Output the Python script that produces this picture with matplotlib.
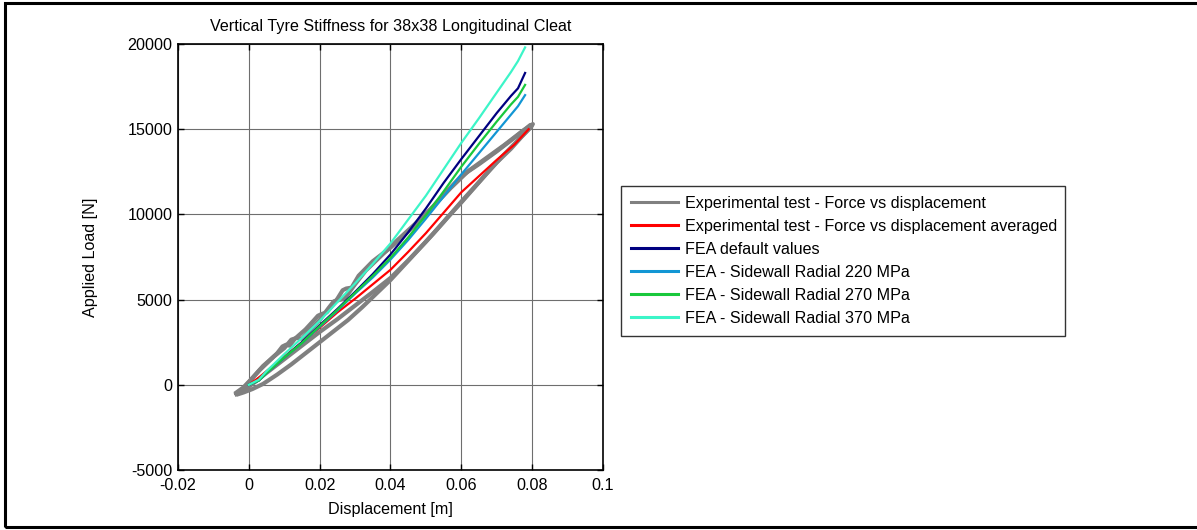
import matplotlib
matplotlib.use("Agg")
import matplotlib.pyplot as plt
from matplotlib.patches import Rectangle

plt.rcParams['font.family'] = ['Liberation Sans', 'DejaVu Sans']

# --- Data -----------------------------------------------------------------
title = "Vertical Tyre Stiffness for 38x38 Longitudinal Cleat"
xlabel = "Displacement [m]"
ylabel = "Applied Load [N]"
xticks = [-0.02, 0, 0.02, 0.04, 0.06, 0.08, 0.1]
xtick_labels = ["-0.02", "0", "0.02", "0.04", "0.06", "0.08", "0.1"]
yticks = [-5000, 0, 5000, 10000, 15000, 20000]
ytick_labels = ["-5000", "0", "5000", "10000", "15000", "20000"]

# Experimental test, raw force vs displacement (two load/unload cycles)
exp_x_c1 = [-0.0035, -0.002, 0.000, 0.003, 0.006, 0.008, 0.0095, 0.0105, 0.0115, 0.013,
            0.016, 0.018, 0.0195, 0.0205, 0.022, 0.025, 0.0265, 0.0275, 0.029, 0.031,
            0.035, 0.040, 0.045, 0.050, 0.055, 0.060, 0.065, 0.070, 0.075, 0.0795,
            0.0798, 0.077, 0.074, 0.070, 0.065, 0.060, 0.055, 0.050, 0.045, 0.040,
            0.035, 0.030, 0.025, 0.020, 0.015, 0.010, 0.005, 0.002, 0.000, -0.002, -0.0035]
exp_y_c1 = [-500, -300, 150, 850, 1450, 1850, 2250, 2350, 2300, 2700,
            3250, 3700, 4050, 4150, 4250, 5050, 5550, 5650, 5700, 6400,
            7250, 8050, 9000, 10000, 11150, 12250, 12950, 13700, 14500, 15250,
            15150, 14550, 13850, 13050, 11900, 10750, 9550, 8400, 7300, 6270,
            5450, 4650, 3850, 3100, 2300, 1500, 700, 200, -100, -400, -550]

exp_x_c2 = [-0.0035, -0.0015, 0.001, 0.004, 0.007, 0.010, 0.012, 0.0135, 0.015, 0.017,
            0.020, 0.0225, 0.024, 0.025, 0.027, 0.030, 0.033, 0.037, 0.042, 0.047,
            0.052, 0.057, 0.062, 0.067, 0.072, 0.077, 0.0802,
            0.079, 0.076, 0.072, 0.068, 0.064, 0.060, 0.056, 0.052, 0.048, 0.044,
            0.040, 0.036, 0.032, 0.028, 0.024, 0.020, 0.016, 0.012, 0.008, 0.004,
            0.001, -0.0015, -0.003]
exp_y_c2 = [-450, -150, 400, 1100, 1650, 2150, 2650, 2750, 2700, 3150,
            3800, 4500, 4900, 4950, 5050, 5900, 6700, 7500, 8500, 9450,
            10450, 11550, 12550, 13300, 14050, 14850, 15300,
            15000, 14350, 13500, 12600, 11650, 10700, 9800, 8850, 7950, 7050,
            6150, 5350, 4550, 3800, 3150, 2500, 1850, 1200, 600, 50,
            -250, -450, -550]

# Experimental test, averaged curve
avg_x = [0.000, 0.003, 0.005, 0.010, 0.015, 0.020, 0.025, 0.030, 0.035, 0.040,
         0.045, 0.050, 0.055, 0.060, 0.065, 0.070, 0.075, 0.079]
avg_y = [0, 450, 800, 1650, 2500, 3350, 4250, 5050, 5900, 6750,
         7800, 8900, 10100, 11300, 12250, 13200, 14100, 15000]

# FEA curves
fea_x = [0.000, 0.0028, 0.005, 0.010, 0.015, 0.020, 0.025, 0.030, 0.035, 0.040,
         0.045, 0.050, 0.055, 0.060, 0.065, 0.070, 0.074, 0.076, 0.078]
fea_default_y = [0, 250, 700, 1600, 2500, 3500, 4450, 5450, 6500, 7650,
                 8950, 10350, 11850, 13250, 14600, 15950, 16950, 17400, 18300]
fea_220_y = [0, 250, 700, 1600, 2450, 3400, 4350, 5350, 6300, 7350,
             8500, 9750, 11050, 12350, 13600, 14850, 15850, 16350, 17000]
fea_270_y = [0, 250, 700, 1600, 2450, 3450, 4400, 5400, 6400, 7450,
             8650, 9950, 11350, 12800, 14150, 15450, 16450, 16900, 17600]
fea_370_y = [0, 300, 800, 1800, 2750, 3750, 4850, 5950, 7100, 8300,
             9700, 11100, 12650, 14200, 15650, 17150, 18350, 19000, 19800]

labels = ["Experimental test - Force vs displacement",
          "Experimental test - Force vs displacement averaged",
          "FEA default values",
          "FEA - Sidewall Radial 220 MPa",
          "FEA - Sidewall Radial 270 MPa",
          "FEA - Sidewall Radial 370 MPa"]
colors = ["#808080", "#ff0000", "#000080", "#1296d4", "#19c83c", "#3cf5c8"]

FS = 11.6

# --- Figure ---------------------------------------------------------------
W, H = 1197, 530
fig = plt.figure(figsize=(W / 100, H / 100), dpi=100)
fig.patch.set_facecolor("white")

# outer frame
fig.add_artist(Rectangle((5 / W, 3 / H), 1.2, 1 - 6 / H, transform=fig.transFigure,
                         fill=False, edgecolor="black", linewidth=2.2, clip_on=False))

ax = fig.add_axes([178 / W, 1 - 470 / H, 425 / W, 426 / H])

l_exp, = ax.plot(exp_x_c1, exp_y_c1, color=colors[0], lw=3.0, solid_joinstyle="round")
ax.plot(exp_x_c2, exp_y_c2, color=colors[0], lw=3.0, solid_joinstyle="round")
l_avg, = ax.plot(avg_x, avg_y, color=colors[1], lw=1.6)
l_def, = ax.plot(fea_x, fea_default_y, color=colors[2], lw=1.6)
l_220, = ax.plot(fea_x, fea_220_y, color=colors[3], lw=1.6)
l_270, = ax.plot(fea_x, fea_270_y, color=colors[4], lw=1.6)
l_370, = ax.plot(fea_x, fea_370_y, color=colors[5], lw=1.6)

ax.set_xlim(-0.02, 0.1)
ax.set_ylim(-5000, 20000)
ax.set_xticks(xticks)
ax.set_xticklabels(xtick_labels)
ax.set_yticks(yticks)
ax.set_yticklabels(ytick_labels)
ax.tick_params(direction="in", length=4, width=1, top=True, right=True,
               labelsize=FS, colors="black")
ax.tick_params(axis="x", pad=6)
ax.tick_params(axis="y", pad=4)
ax.grid(True, color="#6e6e6e", linewidth=0.8, linestyle="-")
ax.set_axisbelow(True)
for s in ax.spines.values():
    s.set_linewidth(1.2)
    s.set_color("black")

ax.set_title(title, fontsize=FS, pad=9)
ax.set_xlabel(xlabel, fontsize=FS, labelpad=6)
ax.set_ylabel(ylabel, fontsize=FS, labelpad=21)

leg = fig.legend([l_exp, l_avg, l_def, l_220, l_270, l_370], labels,
                 loc="upper left",
                 bbox_to_anchor=(621 / W, 1 - 186 / H, (1065 - 621) / W, 0.0),
                 mode="expand", fontsize=FS, frameon=True, fancybox=False,
                 handlelength=2.95, handletextpad=0.4, labelspacing=0.5,
                 borderpad=0.6, borderaxespad=0.0)
leg.get_frame().set_edgecolor("black")
leg.get_frame().set_linewidth(1.0)
for h in leg.legend_handles:
    h.set_linewidth(2.2)

fig.savefig("out.png", dpi=100)
